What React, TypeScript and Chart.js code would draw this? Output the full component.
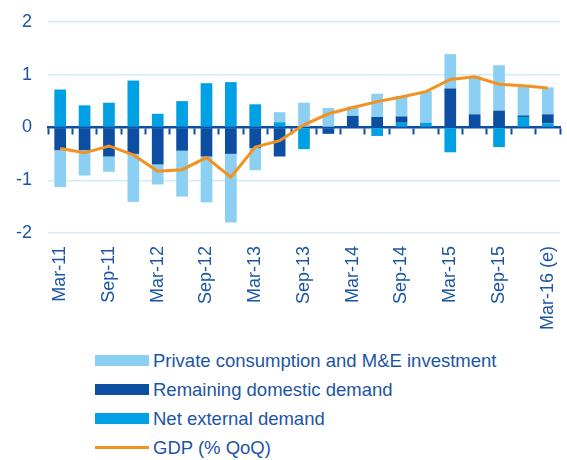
import React, { useEffect, useRef } from 'react';
import { Chart, registerables } from 'chart.js';

Chart.register(...registerables);

const categories = [
  'Mar-11', 'Jun-11', 'Sep-11', 'Dec-11', 'Mar-12', 'Jun-12', 'Sep-12', 'Dec-12',
  'Mar-13', 'Jun-13', 'Sep-13', 'Dec-13', 'Mar-14', 'Jun-14', 'Sep-14', 'Dec-14',
  'Mar-15', 'Jun-15', 'Sep-15', 'Dec-15', 'Mar-16 (e)',
];

const privateConsumption = [
  -0.70, -0.48, -0.29, -0.91, -0.38, -0.87, -0.87, -1.30, -0.42, 0.19, 0.47,
  0.37, 0.18, 0.44, 0.39, 0.60, 0.65, 0.73, 0.86, 0.54, 0.51,
];
const remainingDomestic = [
  -0.43, -0.43, -0.55, -0.50, -0.70, -0.44, -0.55, -0.50, -0.39, -0.55, 0,
  -0.12, 0.22, 0.20, 0.12, 0, 0.74, 0.25, 0.32, 0.03, 0.17,
];
const netExternal = [
  0.72, 0.42, 0.47, 0.89, 0.26, 0.50, 0.84, 0.86, 0.44, 0.10, -0.41,
  0, 0, -0.16, 0.09, 0.09, -0.47, 0, -0.37, 0.20, 0.08,
];
const gdp = [
  -0.40, -0.48, -0.35, -0.52, -0.83, -0.80, -0.57, -0.94, -0.37, -0.25, 0.05,
  0.26, 0.38, 0.49, 0.58, 0.68, 0.91, 0.96, 0.82, 0.79, 0.75,
];
const yTicks = [-2, -1, 0, 1, 2];

const seriesNames = [
  'Private consumption and M&E investment',
  'Remaining domestic demand',
  'Net external demand',
  'GDP (% QoQ)',
];

const LIGHT = '#8bd0f2';
const DARK = '#0b4ea2';
const MID = '#00a1e4';
const ORANGE = '#f39220';
const TEXT = '#1d55a4';
const GRID = '#d3ecf8';
const FONT = '"Liberation Sans", Arial, sans-serif';

const CANVAS_H = 340;
const PLOT_TOP = 22;
const PLOT_BOTTOM = 233;
const PLOT_LEFT = 48;
const PLOT_RIGHT_PAD = 7;

export default function App() {
  const ref = useRef<HTMLCanvasElement>(null);

  useEffect(() => {
    const barCommon = { barPercentage: 0.48, categoryPercentage: 1, stack: 'bars', borderWidth: 0 };
    const zeroPad = (s: any) => {
      s.paddingLeft = 0;
      s.paddingRight = 0;
      s.paddingTop = 0;
      s.paddingBottom = 0;
    };
    const chart = new Chart(ref.current as HTMLCanvasElement, {
      type: 'bar',
      data: {
        labels: categories,
        datasets: [
          {
            type: 'line',
            label: seriesNames[3],
            data: gdp,
            borderColor: ORANGE,
            backgroundColor: ORANGE,
            borderWidth: 3,
            pointRadius: 0,
            tension: 0,
            stack: 'gdp',
            order: -1,
          } as any,
          { label: seriesNames[2], data: netExternal, backgroundColor: MID, ...barCommon },
          { label: seriesNames[1], data: remainingDomestic, backgroundColor: DARK, ...barCommon },
          { label: seriesNames[0], data: privateConsumption, backgroundColor: LIGHT, ...barCommon },
        ],
      },
      options: {
        responsive: false,
        animation: false,
        layout: { padding: { top: PLOT_TOP, left: 16, right: PLOT_RIGHT_PAD, bottom: 0 } },
        plugins: { legend: { display: false }, tooltip: { enabled: false } },
        scales: {
          x: {
            type: 'category',
            position: { y: 0 } as any,
            offset: true,
            stacked: true,
            afterFit: zeroPad,
            grid: {
              offset: true,
              drawOnChartArea: false,
              drawTicks: true,
              tickLength: 6,
              tickColor: DARK,
              tickWidth: 2,
            },
            border: { display: true, color: DARK, width: 2.5 },
            ticks: { display: false },
          },
          x2: {
            type: 'category',
            position: 'bottom',
            offset: true,
            afterFit: (s: any) => {
              zeroPad(s);
              s.height = CANVAS_H - PLOT_BOTTOM;
            },
            grid: { display: false, drawTicks: false },
            border: { display: false },
            ticks: {
              autoSkip: false,
              maxRotation: 90,
              minRotation: 90,
              padding: 13,
              color: TEXT,
              font: { family: FONT, size: 18 },
              callback: (_v: any, i: number) => (i % 2 === 0 ? categories[i] : ''),
            },
          },
          y: {
            min: -2,
            max: 2,
            stacked: true,
            afterBuildTicks: (s: any) => {
              s.ticks = yTicks.map((v) => ({ value: v }));
            },
            afterFit: (s: any) => {
              zeroPad(s);
              s.width = PLOT_LEFT - 16;
            },
            grid: {
              drawTicks: false,
              lineWidth: 1.5,
              color: (ctx: any) => (ctx.tick && ctx.tick.value === 0 ? 'rgba(0,0,0,0)' : GRID),
            },
            border: { display: false },
            ticks: {
              padding: 16,
              color: TEXT,
              font: { family: FONT, size: 18 },
            },
          },
        },
      },
    });
    return () => chart.destroy();
  }, []);

  const legend = [
    { label: seriesNames[0], color: LIGHT, line: false },
    { label: seriesNames[1], color: DARK, line: false },
    { label: seriesNames[2], color: MID, line: false },
    { label: seriesNames[3], color: ORANGE, line: true },
  ];

  return (
    <div style={{ position: 'absolute', left: 0, top: 0, width: 567, height: 460, background: '#fff', overflow: 'hidden', fontFamily: FONT }}>
      <canvas ref={ref} width={567} height={CANVAS_H} style={{ display: 'block' }} />
      <div style={{ position: 'absolute', left: 95, top: 346 }}>
        {legend.map((it) => (
          <div key={it.label} style={{ display: 'flex', alignItems: 'center', height: 29 }}>
            <div style={{ width: 54, height: it.line ? 2.5 : 11, background: it.color, marginRight: 4 }} />
            <span style={{ fontSize: 18.5, color: TEXT, whiteSpace: 'nowrap', lineHeight: '29px' }}>{it.label}</span>
          </div>
        ))}
      </div>
    </div>
  );
}
